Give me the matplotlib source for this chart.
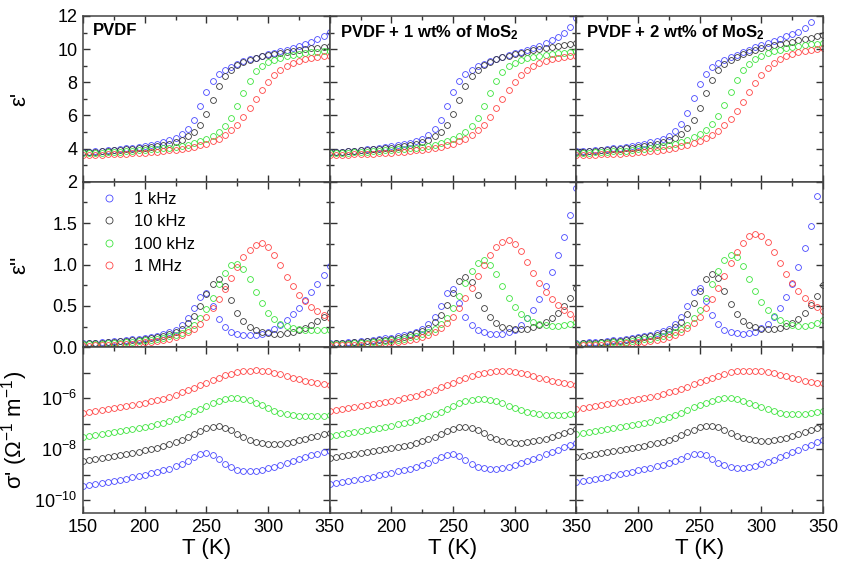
import numpy as np
import matplotlib
matplotlib.use("Agg")
import matplotlib.pyplot as plt
from matplotlib.ticker import MultipleLocator, FixedLocator, FixedFormatter, NullLocator

plt.rcParams['font.family'] = ['Liberation Sans', 'DejaVu Sans']
plt.rcParams['mathtext.fontset'] = 'custom'
plt.rcParams['mathtext.rm'] = 'Liberation Sans'
plt.rcParams['mathtext.it'] = 'Liberation Sans:italic'
plt.rcParams['mathtext.bf'] = 'Liberation Sans:bold'

# ---------------- data ----------------
T = list(range(150, 351, 5))  # temperature grid (K)

panel_titles = ["PVDF", "PVDF + 1 wt% of MoS$_\\mathbf{2}$", "PVDF + 2 wt% of MoS$_\\mathbf{2}$"]
freq_labels = ["1 kHz", "10 kHz", "100 kHz", "1 MHz"]

# eps' ------------------------------------------------------------
eps1_pvdf_1k = [3.80,3.82,3.85,3.88,3.91,3.94,3.98,4.02,4.06,4.11,4.16,4.22,4.29,4.38,4.49,4.63,4.85,5.20,5.75,6.55,7.40,8.05,8.47,8.75,8.95,9.12,9.26,9.38,9.49,9.59,9.69,9.78,9.87,9.96,10.06,10.17,10.29,10.43,10.60,10.80,11.05]
eps1_pvdf_10k = [3.78,3.80,3.82,3.84,3.87,3.89,3.92,3.95,3.98,4.02,4.06,4.10,4.15,4.21,4.29,4.39,4.53,4.73,5.02,5.45,6.10,6.95,7.75,8.35,8.75,9.02,9.22,9.37,9.49,9.58,9.66,9.73,9.79,9.85,9.90,9.95,10.00,10.04,10.09,10.13,10.17]
eps1_pvdf_100k = [3.72,3.73,3.74,3.76,3.77,3.79,3.81,3.83,3.86,3.89,3.92,3.95,3.98,4.02,4.06,4.11,4.17,4.24,4.33,4.44,4.58,4.77,5.02,5.36,5.85,6.55,7.35,8.10,8.65,9.00,9.22,9.37,9.48,9.57,9.64,9.70,9.75,9.80,9.84,9.87,9.90]
eps1_pvdf_1M = [3.60,3.61,3.62,3.63,3.64,3.65,3.67,3.69,3.71,3.73,3.75,3.78,3.81,3.85,3.89,3.94,3.99,4.05,4.12,4.20,4.30,4.43,4.60,4.82,5.10,5.45,5.90,6.42,6.98,7.52,8.00,8.42,8.75,9.00,9.17,9.29,9.38,9.45,9.51,9.56,9.60]

eps1_m1_1k = [3.77,3.79,3.82,3.85,3.88,3.91,3.95,3.99,4.03,4.08,4.13,4.19,4.26,4.35,4.46,4.60,4.82,5.17,5.72,6.55,7.42,8.07,8.48,8.76,8.96,9.13,9.27,9.40,9.52,9.63,9.74,9.85,9.96,10.08,10.21,10.36,10.53,10.74,11.00,11.35,11.90]
eps1_m1_10k = [3.78,3.80,3.82,3.84,3.87,3.89,3.92,3.95,3.98,4.02,4.06,4.10,4.15,4.21,4.29,4.39,4.53,4.73,5.02,5.45,6.10,6.95,7.75,8.35,8.75,9.03,9.24,9.39,9.51,9.61,9.70,9.78,9.85,9.92,9.99,10.06,10.12,10.18,10.24,10.30,10.36]
eps1_m1_100k = [3.72,3.73,3.74,3.76,3.77,3.79,3.81,3.83,3.86,3.89,3.92,3.95,3.98,4.02,4.06,4.11,4.17,4.24,4.33,4.44,4.58,4.77,5.02,5.36,5.85,6.55,7.35,8.10,8.63,8.97,9.18,9.33,9.44,9.53,9.60,9.66,9.71,9.75,9.79,9.83,9.86]
eps1_m1_1M = [3.60,3.61,3.62,3.63,3.64,3.65,3.67,3.69,3.71,3.73,3.75,3.78,3.81,3.85,3.89,3.94,3.99,4.05,4.12,4.20,4.30,4.43,4.60,4.82,5.10,5.45,5.90,6.42,6.98,7.52,8.00,8.42,8.75,9.00,9.17,9.29,9.38,9.45,9.51,9.56,9.60]

eps1_m2_1k = [3.83,3.85,3.88,3.91,3.94,3.98,4.02,4.06,4.11,4.16,4.22,4.29,4.37,4.47,4.60,4.78,5.05,5.48,6.15,7.05,7.90,8.50,8.90,9.15,9.35,9.52,9.67,9.81,9.95,10.10,10.25,10.39,10.52,10.64,10.77,10.90,11.06,11.28,11.65,12.25,13.10]
eps1_m2_10k = [3.80,3.82,3.84,3.86,3.89,3.92,3.95,3.98,4.02,4.06,4.11,4.16,4.22,4.29,4.38,4.50,4.66,4.89,5.22,5.72,6.45,7.35,8.15,8.72,9.10,9.36,9.55,9.70,9.83,9.94,10.04,10.13,10.22,10.30,10.38,10.46,10.54,10.62,10.70,10.79,10.88]
eps1_m2_100k = [3.74,3.75,3.76,3.78,3.79,3.81,3.83,3.85,3.88,3.91,3.95,3.99,4.03,4.08,4.14,4.21,4.30,4.40,4.52,4.67,4.86,5.12,5.48,5.98,6.65,7.42,8.15,8.72,9.12,9.40,9.60,9.75,9.86,9.96,10.05,10.12,10.18,10.23,10.28,10.32,10.36]
eps1_m2_1M = [3.60,3.61,3.62,3.63,3.64,3.66,3.67,3.69,3.71,3.74,3.77,3.80,3.84,3.88,3.93,3.99,4.06,4.14,4.23,4.34,4.47,4.63,4.83,5.08,5.40,5.80,6.28,6.83,7.40,7.95,8.45,8.86,9.18,9.42,9.60,9.73,9.83,9.91,9.97,10.02,10.06]

# eps'' -----------------------------------------------------------
eps2_pvdf_1k = [0.050,0.054,0.058,0.063,0.068,0.074,0.080,0.087,0.095,0.104,0.114,0.126,0.140,0.158,0.180,0.210,0.270,0.350,0.470,0.610,0.650,0.500,0.345,0.245,0.188,0.162,0.150,0.146,0.150,0.165,0.190,0.225,0.270,0.330,0.400,0.480,0.575,0.670,0.770,0.870,0.980]
eps2_pvdf_10k = [0.045,0.048,0.052,0.056,0.060,0.065,0.071,0.077,0.084,0.092,0.101,0.112,0.125,0.141,0.160,0.185,0.225,0.290,0.380,0.500,0.640,0.770,0.820,0.740,0.570,0.420,0.320,0.250,0.205,0.180,0.168,0.163,0.165,0.172,0.186,0.207,0.236,0.272,0.316,0.368,0.430]
eps2_pvdf_100k = [0.035,0.038,0.041,0.044,0.048,0.052,0.057,0.062,0.068,0.075,0.083,0.092,0.103,0.116,0.132,0.152,0.178,0.215,0.270,0.350,0.460,0.600,0.760,0.900,0.990,1.010,0.950,0.820,0.670,0.530,0.420,0.340,0.285,0.252,0.232,0.220,0.213,0.209,0.208,0.210,0.215]
eps2_pvdf_1M = [0.020,0.022,0.024,0.027,0.030,0.033,0.037,0.041,0.046,0.052,0.059,0.067,0.077,0.089,0.104,0.122,0.146,0.180,0.225,0.285,0.365,0.470,0.580,0.705,0.835,0.965,1.085,1.180,1.240,1.255,1.215,1.120,0.990,0.855,0.735,0.635,0.555,0.490,0.435,0.390,0.350]

eps2_m1_1k = [0.050,0.054,0.058,0.063,0.068,0.074,0.081,0.088,0.097,0.107,0.118,0.131,0.147,0.166,0.190,0.222,0.280,0.365,0.495,0.660,0.700,0.540,0.370,0.265,0.208,0.180,0.165,0.160,0.165,0.182,0.215,0.270,0.350,0.455,0.585,0.740,0.915,1.110,1.330,1.600,1.920]
eps2_m1_10k = [0.045,0.048,0.052,0.056,0.061,0.066,0.072,0.078,0.086,0.094,0.104,0.116,0.130,0.147,0.168,0.195,0.235,0.300,0.395,0.515,0.660,0.795,0.850,0.790,0.630,0.480,0.370,0.295,0.250,0.228,0.220,0.220,0.226,0.240,0.265,0.300,0.350,0.415,0.500,0.600,0.720]
eps2_m1_100k = [0.036,0.039,0.042,0.045,0.049,0.053,0.058,0.063,0.069,0.076,0.084,0.094,0.105,0.119,0.136,0.157,0.184,0.222,0.280,0.360,0.475,0.620,0.780,0.920,1.020,1.050,1.000,0.880,0.735,0.600,0.490,0.408,0.350,0.310,0.285,0.270,0.262,0.260,0.265,0.278,0.300]
eps2_m1_1M = [0.021,0.023,0.025,0.028,0.031,0.034,0.038,0.042,0.047,0.053,0.060,0.068,0.078,0.090,0.105,0.124,0.148,0.182,0.228,0.290,0.372,0.478,0.592,0.720,0.858,0.995,1.115,1.215,1.275,1.290,1.250,1.160,1.035,0.900,0.775,0.668,0.580,0.508,0.450,0.400,0.360]

eps2_m2_1k = [0.052,0.056,0.060,0.065,0.070,0.076,0.083,0.090,0.099,0.109,0.120,0.133,0.149,0.168,0.193,0.226,0.285,0.370,0.505,0.670,0.715,0.565,0.395,0.280,0.215,0.185,0.170,0.165,0.170,0.190,0.228,0.287,0.370,0.475,0.605,0.770,0.965,1.195,1.470,1.830,2.300]
eps2_m2_10k = [0.046,0.049,0.053,0.057,0.062,0.067,0.073,0.080,0.088,0.097,0.107,0.119,0.134,0.152,0.174,0.202,0.245,0.310,0.405,0.530,0.680,0.825,0.890,0.840,0.680,0.520,0.400,0.320,0.268,0.240,0.225,0.220,0.222,0.232,0.255,0.290,0.345,0.420,0.515,0.625,0.750]
eps2_m2_100k = [0.037,0.040,0.043,0.046,0.050,0.054,0.059,0.064,0.070,0.077,0.085,0.095,0.106,0.120,0.137,0.158,0.185,0.222,0.275,0.350,0.455,0.595,0.760,0.920,1.050,1.115,1.090,0.980,0.830,0.680,0.550,0.450,0.378,0.325,0.290,0.270,0.260,0.258,0.268,0.292,0.335]
eps2_m2_1M = [0.022,0.024,0.026,0.029,0.032,0.035,0.039,0.043,0.048,0.054,0.061,0.069,0.079,0.091,0.106,0.125,0.149,0.183,0.228,0.290,0.370,0.470,0.580,0.715,0.865,1.015,1.150,1.265,1.340,1.370,1.345,1.270,1.155,1.020,0.890,0.775,0.680,0.600,0.535,0.482,0.440]

# sigma' as log10 values (Ohm^-1 m^-1) ------------------------------
lsig_pvdf_1k = [-9.46,-9.42,-9.37,-9.33,-9.28,-9.24,-9.19,-9.15,-9.10,-9.05,-9.00,-8.95,-8.89,-8.83,-8.76,-8.67,-8.57,-8.45,-8.32,-8.20,-8.15,-8.22,-8.38,-8.56,-8.71,-8.81,-8.86,-8.87,-8.85,-8.81,-8.75,-8.68,-8.61,-8.53,-8.46,-8.38,-8.31,-8.24,-8.17,-8.11,-8.05]
lsig_pvdf_10k = [-8.47,-8.43,-8.39,-8.35,-8.31,-8.27,-8.23,-8.18,-8.14,-8.09,-8.04,-7.99,-7.94,-7.88,-7.81,-7.73,-7.63,-7.52,-7.40,-7.28,-7.18,-7.11,-7.10,-7.15,-7.26,-7.39,-7.52,-7.62,-7.70,-7.75,-7.78,-7.79,-7.78,-7.75,-7.71,-7.65,-7.59,-7.53,-7.47,-7.41,-7.35]
lsig_pvdf_100k = [-7.52,-7.48,-7.44,-7.40,-7.36,-7.32,-7.28,-7.24,-7.20,-7.16,-7.12,-7.07,-7.02,-6.96,-6.89,-6.81,-6.72,-6.62,-6.51,-6.40,-6.29,-6.19,-6.10,-6.03,-5.99,-5.98,-6.01,-6.08,-6.17,-6.28,-6.39,-6.49,-6.57,-6.63,-6.67,-6.69,-6.70,-6.70,-6.69,-6.68,-6.66]
lsig_pvdf_1M = [-6.57,-6.53,-6.49,-6.45,-6.41,-6.37,-6.33,-6.29,-6.25,-6.21,-6.17,-6.12,-6.07,-6.01,-5.94,-5.86,-5.77,-5.68,-5.58,-5.48,-5.38,-5.28,-5.19,-5.10,-5.03,-4.97,-4.93,-4.91,-4.90,-4.91,-4.94,-4.99,-5.05,-5.12,-5.19,-5.26,-5.32,-5.37,-5.41,-5.44,-5.47]

lsig_m1_1k = [-9.37,-9.33,-9.29,-9.24,-9.20,-9.16,-9.11,-9.07,-9.02,-8.97,-8.92,-8.87,-8.82,-8.76,-8.70,-8.62,-8.53,-8.42,-8.31,-8.21,-8.19,-8.26,-8.41,-8.56,-8.68,-8.75,-8.78,-8.78,-8.75,-8.70,-8.63,-8.55,-8.47,-8.38,-8.29,-8.20,-8.11,-8.02,-7.93,-7.84,-7.75]
lsig_m1_10k = [-8.36,-8.32,-8.28,-8.24,-8.20,-8.16,-8.12,-8.08,-8.04,-8.00,-7.96,-7.92,-7.87,-7.82,-7.76,-7.69,-7.61,-7.51,-7.40,-7.29,-7.19,-7.13,-7.12,-7.16,-7.26,-7.38,-7.50,-7.60,-7.68,-7.73,-7.75,-7.75,-7.73,-7.69,-7.64,-7.58,-7.51,-7.44,-7.37,-7.29,-7.22]
lsig_m1_100k = [-7.47,-7.43,-7.39,-7.35,-7.31,-7.27,-7.23,-7.19,-7.15,-7.11,-7.07,-7.02,-6.97,-6.92,-6.86,-6.79,-6.71,-6.62,-6.52,-6.41,-6.30,-6.20,-6.12,-6.06,-6.03,-6.03,-6.06,-6.12,-6.20,-6.29,-6.38,-6.46,-6.53,-6.59,-6.63,-6.65,-6.66,-6.66,-6.65,-6.63,-6.60]
lsig_m1_1M = [-6.49,-6.45,-6.41,-6.37,-6.33,-6.29,-6.25,-6.21,-6.17,-6.13,-6.09,-6.05,-6.00,-5.95,-5.89,-5.82,-5.74,-5.66,-5.57,-5.48,-5.39,-5.30,-5.21,-5.13,-5.06,-5.00,-4.96,-4.94,-4.93,-4.94,-4.96,-5.00,-5.06,-5.12,-5.19,-5.26,-5.32,-5.37,-5.41,-5.45,-5.48]

lsig_m2_1k = [-9.28,-9.24,-9.20,-9.15,-9.11,-9.07,-9.02,-8.98,-8.93,-8.88,-8.83,-8.78,-8.73,-8.67,-8.61,-8.54,-8.46,-8.37,-8.27,-8.19,-8.17,-8.23,-8.37,-8.52,-8.63,-8.70,-8.73,-8.73,-8.70,-8.65,-8.58,-8.50,-8.41,-8.32,-8.22,-8.12,-8.02,-7.93,-7.83,-7.73,-7.64]
lsig_m2_10k = [-8.30,-8.26,-8.22,-8.18,-8.14,-8.10,-8.06,-8.02,-7.98,-7.94,-7.90,-7.86,-7.81,-7.76,-7.70,-7.63,-7.55,-7.45,-7.34,-7.23,-7.14,-7.09,-7.09,-7.14,-7.24,-7.35,-7.46,-7.55,-7.61,-7.65,-7.67,-7.67,-7.65,-7.61,-7.55,-7.48,-7.41,-7.33,-7.25,-7.17,-7.09]
lsig_m2_100k = [-7.40,-7.36,-7.32,-7.28,-7.24,-7.20,-7.16,-7.12,-7.08,-7.04,-7.00,-6.96,-6.91,-6.86,-6.80,-6.73,-6.65,-6.56,-6.46,-6.36,-6.26,-6.17,-6.09,-6.03,-6.00,-6.00,-6.03,-6.09,-6.17,-6.26,-6.35,-6.43,-6.50,-6.56,-6.60,-6.62,-6.62,-6.61,-6.58,-6.54,-6.50]
lsig_m2_1M = [-6.43,-6.39,-6.35,-6.31,-6.27,-6.23,-6.19,-6.15,-6.11,-6.07,-6.03,-5.99,-5.94,-5.89,-5.83,-5.77,-5.70,-5.62,-5.54,-5.45,-5.36,-5.27,-5.19,-5.11,-5.04,-4.98,-4.94,-4.92,-4.91,-4.91,-4.93,-4.97,-5.02,-5.08,-5.14,-5.20,-5.26,-5.31,-5.35,-5.38,-5.41]

eps1 = [[eps1_pvdf_1k, eps1_pvdf_10k, eps1_pvdf_100k, eps1_pvdf_1M],
        [eps1_m1_1k, eps1_m1_10k, eps1_m1_100k, eps1_m1_1M],
        [eps1_m2_1k, eps1_m2_10k, eps1_m2_100k, eps1_m2_1M]]
eps2 = [[eps2_pvdf_1k, eps2_pvdf_10k, eps2_pvdf_100k, eps2_pvdf_1M],
        [eps2_m1_1k, eps2_m1_10k, eps2_m1_100k, eps2_m1_1M],
        [eps2_m2_1k, eps2_m2_10k, eps2_m2_100k, eps2_m2_1M]]
lsig = [[lsig_pvdf_1k, lsig_pvdf_10k, lsig_pvdf_100k, lsig_pvdf_1M],
        [lsig_m1_1k, lsig_m1_10k, lsig_m1_100k, lsig_m1_1M],
        [lsig_m2_1k, lsig_m2_10k, lsig_m2_100k, lsig_m2_1M]]

colors = ['#4848ff', '#3a3a3a', '#3ee43e', '#ff4545']

# ---------------- figure ----------------
fig, axes = plt.subplots(3, 3, figsize=(8.58, 5.65), dpi=100,
                         gridspec_kw=dict(wspace=0, hspace=0))
fig.subplots_adjust(left=83/858, right=823/858, top=1-16/565, bottom=1-513/565)

Tarr = np.array(T)
mk = dict(marker='o', linestyle='none', mfc='none', ms=4.2, mew=0.6)

for c in range(3):
    a1, a2, a3 = axes[0, c], axes[1, c], axes[2, c]
    for k in range(4):
        a1.plot(Tarr, eps1[c][k], color=colors[k], **mk)
        a2.plot(Tarr, eps2[c][k], color=colors[k], label=freq_labels[k], **mk)
        a3.plot(Tarr, 10.0 ** np.array(lsig[c][k]), color=colors[k], **mk)
    a1.set_ylim(2, 12)
    a1.yaxis.set_major_locator(MultipleLocator(2))
    a1.yaxis.set_minor_locator(MultipleLocator(1))
    a2.set_ylim(0, 2)
    a2.yaxis.set_major_locator(FixedLocator([0, 0.5, 1.0, 1.5, 2.0]))
    a2.yaxis.set_major_formatter(FixedFormatter(['0.0', '0.5', '1.0', '1.5', '']))
    a2.yaxis.set_minor_locator(MultipleLocator(0.25))
    a3.set_yscale('log')
    a3.set_ylim(10 ** -10.5, 1e-4)
    a3.yaxis.set_major_locator(FixedLocator([1e-10, 1e-9, 1e-8, 1e-7, 1e-6, 1e-5, 1e-4]))
    a3.yaxis.set_major_formatter(FixedFormatter(['10$^{-10}$', '', '10$^{-8}$', '', '10$^{-6}$', '', '']))
    a3.yaxis.set_minor_locator(NullLocator())
    for ax in (a1, a2, a3):
        ax.set_xlim(150, 350)
        ax.xaxis.set_major_locator(MultipleLocator(50))
        ax.xaxis.set_minor_locator(MultipleLocator(25))
        ax.tick_params(which='both', direction='in', top=True, right=True,
                       labelsize=13, width=1.0, color='#333333', pad=4)
        ax.tick_params(which='major', length=5)
        ax.tick_params(which='minor', length=3)
        for s in ax.spines.values():
            s.set_linewidth(1.1)
            s.set_color('#444444')
        if c > 0:
            ax.tick_params(labelleft=False)
        if ax is not a3:
            ax.tick_params(labelbottom=False)
    if c > 0:
        a3.xaxis.set_major_formatter(FixedFormatter(['', '200', '250', '300', '350']))
        a3.xaxis.set_major_locator(FixedLocator([150, 200, 250, 300, 350]))
    a3.set_xlabel('T (K)', fontsize=16, labelpad=2)
    a1.text(0.04, 0.955, panel_titles[c], transform=a1.transAxes, fontsize=12,
            fontweight='bold', va='top', ha='left')

axes[0, 0].set_ylabel("ε'", fontsize=16)
axes[1, 0].set_ylabel("ε''", fontsize=16)
axes[2, 0].set_ylabel("σ' (Ω$^{-1}$ m$^{-1}$)", fontsize=16)
for r in range(3):
    axes[r, 0].yaxis.set_label_coords(-0.215, 0.5)

axes[1, 0].legend(loc='upper left', bbox_to_anchor=(0.07, 0.94), frameon=False,
                  fontsize=12, numpoints=1, handlelength=1.0, handletextpad=1.0,
                  labelspacing=0.45, borderpad=0, borderaxespad=0, markerscale=1.2)

fig.savefig('out.png', dpi=100)
